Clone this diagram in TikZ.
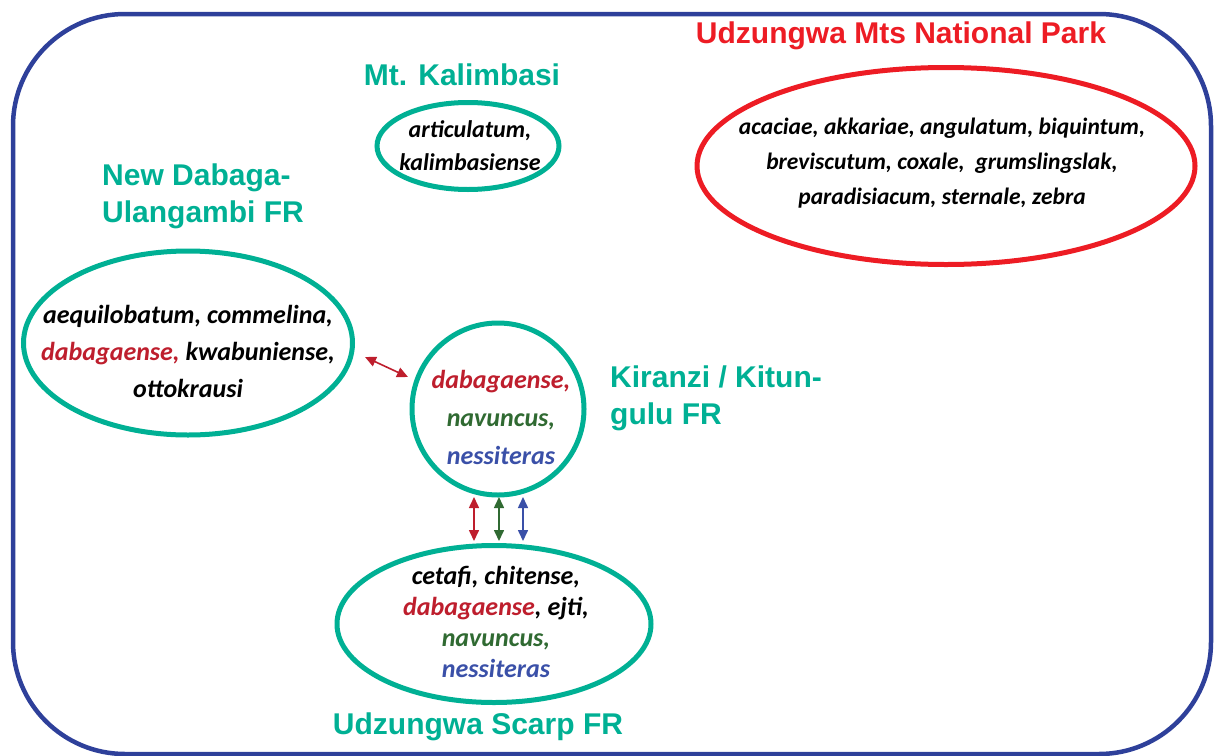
\documentclass[tikz,border=0pt]{standalone}
\usepackage{fontspec}
\setmainfont{Liberation Sans}
\newfontfamily\sppfont{Carlito}
\usetikzlibrary{shapes.geometric,arrows.meta}

\definecolor{parkblue}{RGB}{46,64,154}
\definecolor{zoneteal}{RGB}{0,176,148}
\definecolor{parkred}{RGB}{237,28,36}
\definecolor{sppred}{RGB}{190,30,45}
\definecolor{sppgreen}{RGB}{48,106,50}
\definecolor{sppblue}{RGB}{58,80,168}

\begin{document}
\begin{tikzpicture}[x=1pt, y=-1pt,
    zone/.style={draw=zoneteal, line width=5pt, ellipse, inner sep=0pt},
    spp/.style={font=\sppfont\bfseries\itshape\fontsize{26}{34}\selectfont, align=center, inner sep=0pt},
    area/.style={font=\bfseries\fontsize{30}{37}\selectfont, text=zoneteal, inner sep=0pt},
    link/.style={{Triangle[length=11pt,width=10pt]}-{Triangle[length=11pt,width=10pt]}, line width=1.6pt}]
    \useasboundingbox (0,0) rectangle (1215,755);

    % Outer frame
    \draw[parkblue, line width=4.5pt, rounded corners=112pt] (13,14) rectangle (1211,754);

    % National park
    \node[parkred, font=\bfseries\fontsize{30}{37}\selectfont, inner sep=0pt] (natT) at (901,36) {Udzungwa Mts National Park};
    \node[draw=parkred, line width=5pt, ellipse, inner sep=0pt, minimum width=498pt, minimum height=197pt] (nat) at (946,166) {};
    \node[spp, font=\sppfont\bfseries\itshape\fontsize{23.5}{35}\selectfont] (natS) at (942,163)
        {acaciae, akkariae, angulatum, biquintum,\\ breviscutum, coxale,\ \ grumslingslak,\\ paradisiacum, sternale, zebra};

    % Mt. Kalimbasi
    \node[area] (kalT) at (462,75) {Mt. Kalimbasi};
    \node[zone, minimum width=182pt, minimum height=87pt] (kal) at (468,146) {};
    \node[spp, font=\sppfont\bfseries\itshape\fontsize{24}{33}\selectfont] (kalS) at (470,146) {articulatum,\\ kalimbasiense};

    % New Dabaga-Ulangambi FR
    \node[area, align=left, anchor=west] (nduT) at (102,196) {New Dabaga-\\ Ulangambi FR};
    \node[zone, minimum width=329pt, minimum height=184pt] (ndu) at (188,343) {};
    \node[spp, font=\sppfont\bfseries\itshape\fontsize{26}{37}\selectfont] (nduS) at (188,351)
        {aequilobatum, commelina,\\ \textcolor{sppred}{dabagaense,} kwabuniense,\\ ottokrausi};

    % Kiranzi / Kitungulu FR
    \node[zone, circle, minimum size=172pt] (kir) at (498,409) {};
    \node[spp, font=\sppfont\bfseries\itshape\fontsize{26}{38}\selectfont] (kirS) at (501,417)
        {\textcolor{sppred}{dabagaense,}\\ \textcolor{sppgreen}{navuncus,}\\ \textcolor{sppblue}{nessiteras}};
    \node[area, align=left, anchor=west] (kirT) at (610,398) {Kiranzi / Kitun-\\ gulu FR};

    % Udzungwa Scarp FR
    \node[zone, minimum width=314pt, minimum height=157pt] (usf) at (494,624) {};
    \node[spp, font=\sppfont\bfseries\itshape\fontsize{26}{31}\selectfont] (usfS) at (496,622)
        {cetafi, chitense,\\ \textcolor{sppred}{dabagaense}, ejti,\\ \textcolor{sppgreen}{navuncus,}\\ \textcolor{sppblue}{nessiteras}};
    \node[area] (usfT) at (478,727) {Udzungwa Scarp FR};

    % Shared species
    \coordinate (d1) at (365,357);
    \coordinate (d2) at (408,377);
    \draw[link, sppred] (d1) -- (d2);

    \coordinate (r1) at (474,497);
    \coordinate (r2) at (474,541);
    \coordinate (g1) at (499,497);
    \coordinate (g2) at (499,541);
    \coordinate (b1) at (523,497);
    \coordinate (b2) at (523,541);
    \draw[link, sppred] (r1) -- (r2);
    \draw[link, sppgreen] (g1) -- (g2);
    \draw[link, sppblue] (b1) -- (b2);

\end{tikzpicture}
\end{document}
